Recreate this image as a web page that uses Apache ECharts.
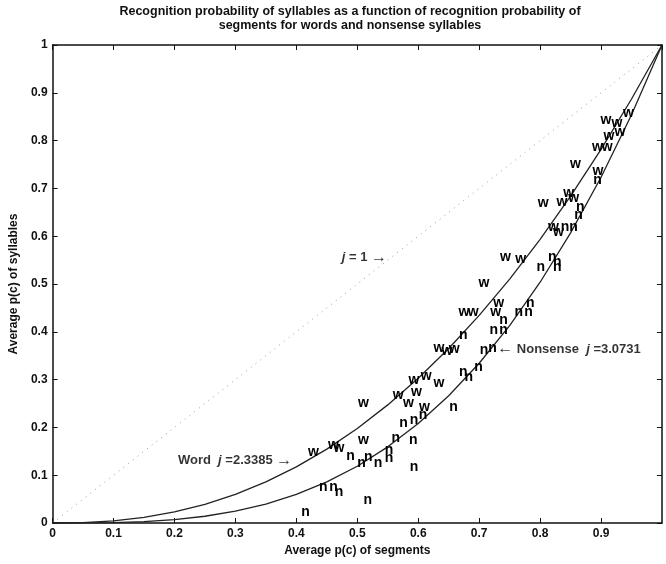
<!DOCTYPE html>
<html>
<head>
<meta charset="utf-8">
<script src="https://cdn.jsdelivr.net/npm/echarts@6/dist/echarts.min.js"></script>
<style>
  html, body { margin: 0; padding: 0; background: #fff; }
  #chart { width: 666px; height: 564px; }
</style>
</head>
<body>
<div id="chart"></div>
<script>
// values
var wordPoints = [
  [0.428, 0.149], [0.461, 0.163], [0.470, 0.157], [0.510, 0.251], [0.510, 0.174],
  [0.567, 0.268], [0.584, 0.251], [0.593, 0.299], [0.597, 0.274], [0.613, 0.308],
  [0.610, 0.243], [0.634, 0.293], [0.634, 0.366], [0.647, 0.360], [0.659, 0.364],
  [0.675, 0.441], [0.690, 0.441], [0.708, 0.502], [0.732, 0.460], [0.727, 0.441],
  [0.743, 0.556], [0.768, 0.552], [0.805, 0.669], [0.836, 0.672], [0.847, 0.690],
  [0.855, 0.680], [0.822, 0.619], [0.830, 0.609], [0.858, 0.751], [0.894, 0.787],
  [0.910, 0.787], [0.908, 0.843], [0.926, 0.837], [0.945, 0.858], [0.931, 0.818],
  [0.913, 0.810], [0.895, 0.736]
];
var nonsensePoints = [
  [0.415, 0.023], [0.444, 0.075], [0.461, 0.075], [0.470, 0.065], [0.517, 0.048],
  [0.489, 0.140], [0.507, 0.126], [0.518, 0.138], [0.534, 0.126], [0.552, 0.153],
  [0.552, 0.136], [0.563, 0.178], [0.576, 0.209], [0.593, 0.215], [0.592, 0.174],
  [0.593, 0.117], [0.608, 0.226], [0.658, 0.243], [0.674, 0.316], [0.683, 0.305],
  [0.699, 0.326], [0.674, 0.393], [0.708, 0.362], [0.722, 0.366], [0.724, 0.404],
  [0.740, 0.404], [0.740, 0.425], [0.765, 0.441], [0.781, 0.441], [0.784, 0.460],
  [0.801, 0.536], [0.820, 0.556], [0.828, 0.546], [0.828, 0.536], [0.866, 0.661],
  [0.863, 0.644], [0.841, 0.619], [0.855, 0.619], [0.894, 0.718]
];
// fitted curves (word j=2.3385, nonsense j=3.0731), sampled along x
var curveX = [0, 0.05, 0.1, 0.15, 0.2, 0.25, 0.3, 0.35, 0.4, 0.45, 0.5,
  0.55, 0.6, 0.65, 0.7, 0.75, 0.8, 0.85, 0.9, 0.95, 1];
var wordCurve = [0, 0.0009, 0.0046, 0.0118, 0.0232, 0.0391, 0.0599, 0.0859, 0.1173, 0.1545, 0.1977,
  0.2471, 0.3028, 0.3652, 0.4343, 0.5103, 0.5934, 0.6839, 0.7816, 0.8870, 1];
var nonsenseCurve = [0, 0.0001, 0.0008, 0.0029, 0.0071, 0.0141, 0.0247, 0.0397, 0.0599, 0.0860, 0.1188,
  0.1593, 0.2081, 0.2661, 0.3342, 0.4131, 0.5037, 0.6069, 0.7234, 0.8542, 1];
var diagonal = [[0, 0], [1, 1]];
var tickStep = 0.1;

var font = "Liberation Sans";

function pairs(xs, ys) {
  return xs.map(function (x, i) { return [x, ys[i]]; });
}

function letterSeries(name, pts, letter) {
  return {
    name: name,
    type: "scatter",
    data: pts,
    symbolSize: 2,
    itemStyle: { color: "rgba(0,0,0,0)" },
    label: {
      show: true,
      position: "inside",
      formatter: letter,
      color: "#000",
      opacity: 1,
      textBorderWidth: 0,
      fontFamily: font,
      fontWeight: 900,
      fontSize: 14
    },
    z: 3
  };
}

function note(x, y, text) {
  var base = { fontFamily: font, fontWeight: "bold", fontSize: 13, color: "#000" };
  return {
    value: [x, y],
    label: {
      show: true,
      position: "right",
      distance: 0,
      formatter: text,
      color: "#000",
      textBorderWidth: 0,
      fontFamily: font,
      fontWeight: "bold",
      fontSize: 13,
      rich: {
        i: Object.assign({}, base, { fontStyle: "italic" }),
        a: Object.assign({}, base, { fontSize: 16 })
      }
    }
  };
}

var chart = echarts.init(document.getElementById("chart"));
var axisLine = { show: true, onZero: false, lineStyle: { color: "#111", width: 1.5 } };
var tick = { show: true, inside: true, length: 5, lineStyle: { color: "#111" } };

chart.setOption({
  animation: false,
  title: {
    text: "Recognition probability of syllables as a function of recognition probability of\nsegments for words and nonsense syllables",
    left: 345,
    top: 0,
    textAlign: "center",
    textStyle: { fontFamily: font, fontWeight: "bold", fontSize: 12.5, lineHeight: 14, color: "#111" }
  },
  grid: { left: 50, right: 4, top: 45, bottom: 41 },
  xAxis: [
    {
      type: "value", min: 0, max: 1, interval: tickStep, position: "bottom",
      name: "Average p(c) of segments", nameLocation: "middle", nameGap: 21,
      nameTextStyle: { fontFamily: font, fontWeight: "bold", fontSize: 12, color: "#111" },
      axisLine: axisLine, axisTick: tick, splitLine: { show: false },
      axisLabel: { showMaxLabel: false, margin: 5, fontFamily: font, fontWeight: "bold", fontSize: 12, color: "#111" }
    },
    {
      type: "value", min: 0, max: 1, interval: tickStep, position: "top",
      axisLine: axisLine, axisTick: tick, splitLine: { show: false }, axisLabel: { show: false }
    }
  ],
  yAxis: [
    {
      type: "value", min: 0, max: 1, interval: tickStep, position: "left",
      name: "Average p(c) of syllables", nameLocation: "middle", nameGap: 31,
      nameTextStyle: { fontFamily: font, fontWeight: "bold", fontSize: 12, color: "#111" },
      axisLine: axisLine, axisTick: tick, splitLine: { show: false },
      axisLabel: { margin: 5, fontFamily: font, fontWeight: "bold", fontSize: 12, color: "#111" }
    },
    {
      type: "value", min: 0, max: 1, interval: tickStep, position: "right",
      axisLine: axisLine, axisTick: tick, splitLine: { show: false }, axisLabel: { show: false }
    }
  ],
  series: [
    {
      name: "j=1", type: "line", data: diagonal, showSymbol: false, symbol: "none",
      lineStyle: { color: "#999", width: 1, type: [1, 5] }
    },
    {
      name: "Word", type: "line", data: pairs(curveX, wordCurve), symbol: "none",
      lineStyle: { color: "#222", width: 1.3 }
    },
    {
      name: "Nonsense", type: "line", data: pairs(curveX, nonsenseCurve), symbol: "none",
      lineStyle: { color: "#222", width: 1.3 }
    },
    letterSeries("word items", wordPoints, "w"),
    letterSeries("nonsense items", nonsensePoints, "n"),
    {
      name: "notes", type: "scatter", symbolSize: 2, itemStyle: { color: "rgba(0,0,0,0)" },
      data: [
        note(0.473, 0.556, "{i|j} = 1 {a|\u2192}"),
        note(0.204, 0.130, "Word  {i|j} =2.3385 {a|\u2192}"),
        note(0.728, 0.364, "{a|\u2190} Nonsense  {i|j} =3.0731")
      ],
      z: 4
    }
  ]
});
</script>
</body>
</html>
